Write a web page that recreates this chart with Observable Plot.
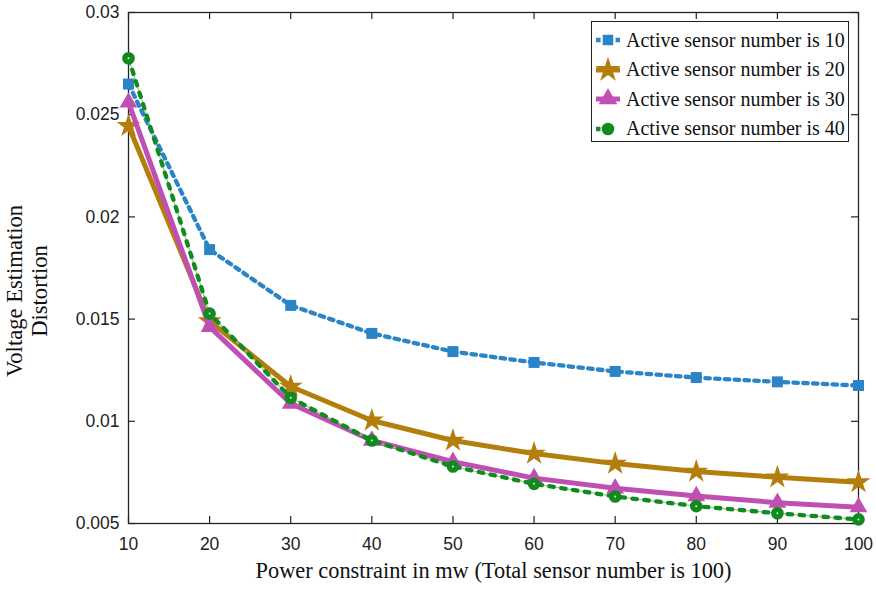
<!DOCTYPE html>
<html>
<head>
<meta charset="utf-8">
<script src="https://cdn.jsdelivr.net/npm/d3@7"></script>
<script src="https://cdn.jsdelivr.net/npm/@observablehq/plot@0.6"></script>
<style>
  body { margin: 0; background: #fff; }
  #wrap { position: relative; width: 876px; height: 591px; }
  #legend { position: absolute; left: 591px; top: 21px; width: 258px; height: 121px;
    border: 1.3px solid #222; background: #fff; box-sizing: border-box;
    font-family: "Liberation Serif", "DejaVu Serif", serif; font-size: 20px; color: #111; }
  .row { position: absolute; left: 0; height: 30px; display: flex; align-items: center; }
  .row svg { display: block; }
  .row span { margin-left: 2px; white-space: nowrap; }
</style>
</head>
<body>
<div id="wrap"><div id="chart"></div><div id="legend"></div></div>
<script>
const power = [10, 20, 30, 40, 50, 60, 70, 80, 90, 100];
const s10 = [0.0265, 0.0184, 0.01567, 0.0143, 0.01341, 0.01288, 0.01244, 0.01214, 0.01193, 0.01175];
const s20 = [0.02445, 0.0149, 0.0117, 0.01004, 0.00906, 0.00842, 0.00793, 0.00754, 0.00726, 0.00702];
const s30 = [0.0256, 0.01462, 0.01087, 0.00906, 0.00802, 0.00722, 0.00672, 0.00634, 0.00602, 0.0058];
const s40 = [0.02776, 0.01527, 0.01115, 0.00906, 0.00779, 0.00694, 0.00632, 0.00585, 0.0055, 0.0052];
const seriesNames = ["Active sensor number is 10", "Active sensor number is 20", "Active sensor number is 30", "Active sensor number is 40"];
const colors = ["#2b84c6", "#b47e0c", "#c04fb4", "#118a1e"];
const symbols = ["square", "star", "triangle", "circle"];
const xTicks = [10, 20, 30, 40, 50, 60, 70, 80, 90, 100];
const yTicks = [0.005, 0.01, 0.015, 0.02, 0.025, 0.03];
const yTickLabels = ["0.005", "0.01", "0.015", "0.02", "0.025", "0.03"];

const allSeries = [s10, s20, s30, s40];
const rows = (vals, k) => power.map((p, i) => ({x: p, y: vals[i], k}));
const d = allSeries.map((v, k) => rows(v, k));

const W = 876, H = 591, mL = 128, mR = 18, mT = 12, mB = 68;
const fw = W - mL - mR, fh = H - mT - mB;
const tl = 7;

const chart = Plot.plot({
  width: W, height: H,
  marginLeft: mL, marginRight: mR, marginTop: mT, marginBottom: mB,
  style: {fontFamily: "'Liberation Sans', Arial, sans-serif", fontSize: "17.5px", color: "#222", background: "#fff"},
  x: {domain: [10, 100]},
  y: {domain: [0.005, 0.03]},
  marks: [
    Plot.frame({stroke: "#222", strokeWidth: 1.3}),
    Plot.axisX({ticks: xTicks, tickSize: 0, tickPadding: 14, label: null, tickFormat: d => String(d)}),
    Plot.axisY({ticks: yTicks, tickSize: 0, tickPadding: 9, label: null, tickFormat: (d, i) => yTickLabels[i]}),
    Plot.tickX(xTicks, {x: d => d, insetTop: fh - tl, stroke: "#222", strokeWidth: 1.2}),
    Plot.tickX(xTicks, {x: d => d, insetBottom: fh - tl, stroke: "#222", strokeWidth: 1.2}),
    Plot.tickY(yTicks, {y: d => d, insetRight: fw - tl, stroke: "#222", strokeWidth: 1.2}),
    Plot.tickY(yTicks, {y: d => d, insetLeft: fw - tl, stroke: "#222", strokeWidth: 1.2}),
    // series 10: dotted blue
    Plot.line(d[0], {x: "x", y: "y", stroke: colors[0], strokeWidth: 4.3, strokeDasharray: "4.5,5.3"}),
    Plot.dot(d[0], {x: "x", y: "y", symbol: symbols[0], r: 6.2, fill: colors[0], stroke: "none"}),
    // series 20: solid gold
    Plot.line(d[1], {x: "x", y: "y", stroke: colors[1], strokeWidth: 5}),
    Plot.dot(d[1], {x: "x", y: "y", symbol: symbols[1], r: 7.5, fill: colors[1], stroke: "none"}),
    // series 30: solid magenta
    Plot.line(d[2], {x: "x", y: "y", stroke: colors[2], strokeWidth: 5}),
    Plot.dot(d[2], {x: "x", y: "y", symbol: symbols[2], r: 6.6, fill: colors[2], stroke: "none"}),
    // series 40: dash-dot green
    Plot.line(d[3], {x: "x", y: "y", stroke: "#8fcc92", strokeWidth: 1.2, strokeDasharray: "2.5,9.5", strokeDashoffset: 5}),
    Plot.line(d[3], {x: "x", y: "y", stroke: colors[3], strokeWidth: 4.3, strokeDasharray: "4.5,7.5"}),
    Plot.dot(d[3], {x: "x", y: "y", symbol: symbols[3], r: 6.3, fill: colors[3], stroke: "none"}),
    Plot.dot(d[3], {x: "x", y: "y", symbol: symbols[3], r: 1, fill: "#e8f4e8", stroke: "none"}),
    Plot.text(["Voltage Estimation\nDistortion"], {frameAnchor: "left", text: d => d, rotate: -90, dx: -102, dy: 23,
      textAnchor: "middle", fontFamily: "'Liberation Serif', serif", fontSize: 22.6, fill: "#111", lineHeight: 1.1}),
    Plot.text(["Power constraint in mw (Total sensor number is 100)"], {frameAnchor: "bottom", text: d => d, dy: 54,
      fontFamily: "'Liberation Serif', serif", fontSize: 22.4, fill: "#111"})
  ]
});
document.getElementById("chart").appendChild(chart);

// legend
const leg = document.getElementById("legend");
const dashes = ["4.5,5.3", null, null, "4.5,7.5"];
const symGen = [d3.symbolSquare, d3.symbolStar, d3.symbolTriangle, d3.symbolCircle];
const symSize = [110, 200, 150, 125];
seriesNames.forEach((name, k) => {
  const row = document.createElement("div");
  row.className = "row";
  row.style.top = (3 + k * 29.5) + "px";
  const ns = "http://www.w3.org/2000/svg";
  const svg = document.createElementNS(ns, "svg");
  svg.setAttribute("width", 32); svg.setAttribute("height", 30);
  const ln = document.createElementNS(ns, "line");
  ln.setAttribute("x1", 4); ln.setAttribute("x2", 28); ln.setAttribute("y1", 15); ln.setAttribute("y2", 15);
  ln.setAttribute("stroke", colors[k]); ln.setAttribute("stroke-width", k === 1 || k === 2 ? 5 : 4.3);
  if (dashes[k]) ln.setAttribute("stroke-dasharray", dashes[k]);
  svg.appendChild(ln);
  const p = document.createElementNS(ns, "path");
  p.setAttribute("d", d3.symbol(symGen[k], symSize[k])());
  p.setAttribute("transform", "translate(16,15)");
  p.setAttribute("fill", colors[k]);
  svg.appendChild(p);
  row.appendChild(svg);
  const sp = document.createElement("span");
  sp.textContent = name;
  row.appendChild(sp);
  leg.appendChild(row);
});
</script>
</body>
</html>
